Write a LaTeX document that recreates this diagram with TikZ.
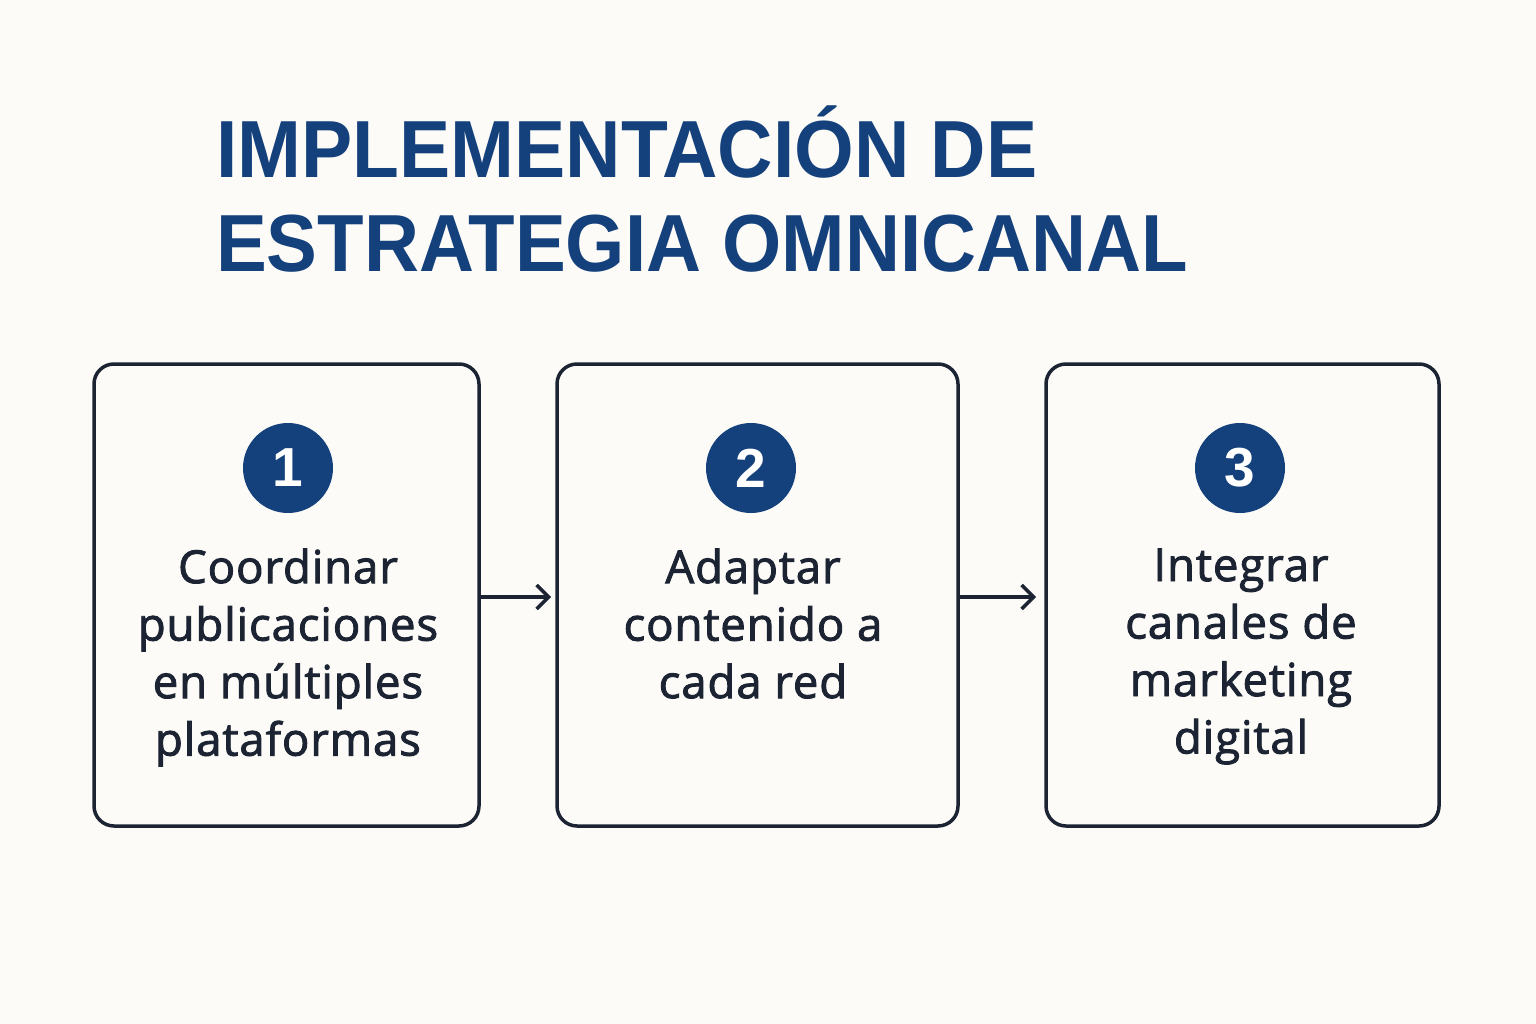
\documentclass[tikz,border=0pt]{standalone}
\usepackage{fontspec}
\usepackage{graphicx}
\setmainfont{Liberation Sans}
\newfontfamily\titlefont{Liberation Sans}
\newfontfamily\bodyfont{Open Sans}[FakeBold=2,LetterSpace=2]
\usetikzlibrary{arrows.meta}
\definecolor{bg}{HTML}{FCFBF7}
\definecolor{navy}{HTML}{14407C}
\definecolor{ink}{HTML}{1C2433}
\tikzset{
  stepbox/.style={draw=ink, line width=3.5pt, rounded corners=20pt, fill=bg},
  numdot/.style={circle, fill=navy, minimum size=90pt, inner sep=0pt, text=white, font=\titlefont\bfseries\fontsize{55}{55}\selectfont},
  steptext/.style={text=ink, font=\bodyfont\fontsize{45.5}{57.5}\selectfont, align=center, anchor=north},
  titletext/.style={anchor=base west, inner sep=0pt, text=navy, font=\titlefont\bfseries\fontsize{81}{94}\selectfont},
  flow/.style={draw=ink, line width=3.5pt, -{Straight Barb[length=12pt,width=24pt,line width=3.5pt]}},
}
\begin{document}
\begin{tikzpicture}[x=1pt,y=-1pt]
\path[fill=bg] (0,0) rectangle (1536,1024);
\useasboundingbox (0,0) rectangle (1536,1024);
\node[titletext] (t1) at (216,178) {\scalebox{0.947}[1]{IMPLEMENTACIÓN DE}};
\node[titletext] (t2) at (216,272) {\scalebox{0.94}[1]{ESTRATEGIA OMNICANAL}};

\path[stepbox] (94,364) rectangle (479,826);
\path[stepbox] (557,364) rectangle (958,826);
\path[stepbox] (1046,364) rectangle (1439,826);
\coordinate (b1r) at (479,597);
\coordinate (b2l) at (551,597);
\coordinate (b2r) at (958,597);
\coordinate (b3l) at (1036,597);

\node[numdot] (n1) at (288,468) {1};
\node[numdot] (n2) at (751,468) {2};
\node[numdot] (n3) at (1240,468) {3};

\node[steptext] (s1) at (288,545) {Coordinar\\publicaciones\\en múltiples\\plataformas};
\node[steptext] (s2) at (753,545) {Adaptar\\contenido a\\cada red};
\node[steptext] (s3) at (1241,545) {Integrar\\canales de\\marketing\\digital};

\draw[flow] (b1r) -- (b2l);
\draw[flow] (b2r) -- (b3l);
\end{tikzpicture}
\end{document}
